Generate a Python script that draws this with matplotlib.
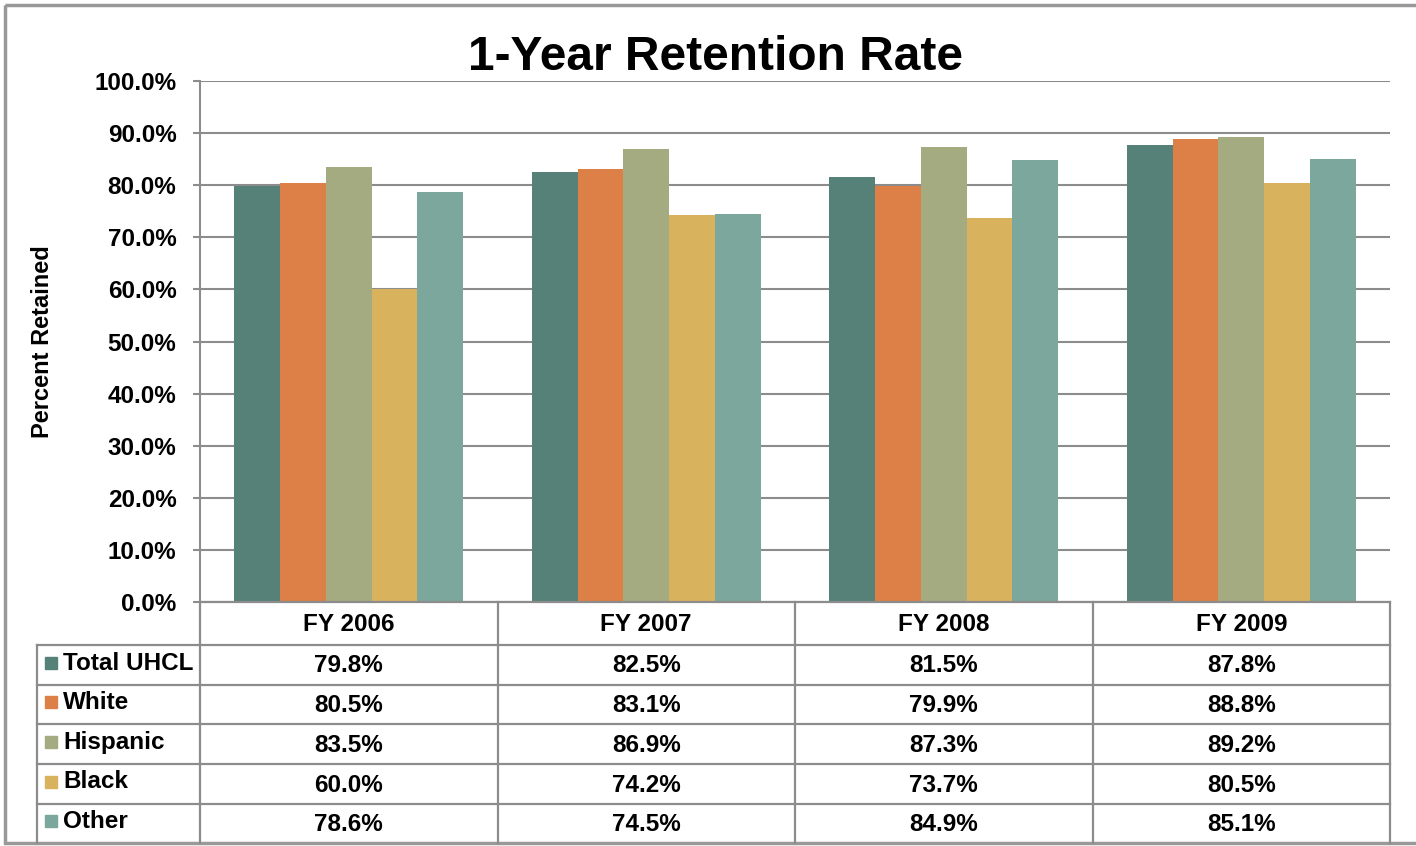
import numpy as np
import matplotlib
matplotlib.use('Agg')
import matplotlib.pyplot as plt
from matplotlib.patches import Rectangle

plt.rcParams['font.family'] = ['Liberation Sans', 'DejaVu Sans']
plt.rcParams['font.weight'] = 'bold'

# Data
years = ['FY 2006', 'FY 2007', 'FY 2008', 'FY 2009']
groups = ['Total UHCL', 'White', 'Hispanic', 'Black', 'Other']
total_uhcl = [79.8, 82.5, 81.5, 87.8]
white = [80.5, 83.1, 79.9, 88.8]
hispanic = [83.5, 86.9, 87.3, 89.2]
black = [60.0, 74.2, 73.7, 80.5]
other = [78.6, 74.5, 84.9, 85.1]
series = [total_uhcl, white, hispanic, black, other]
colors = ['#568178', '#DD8047', '#A5AB81', '#D8B25C', '#7BA79D']
grid_col = '#8C8C8C'
fs = 17.5

W, H = 1416, 846
fig = plt.figure(figsize=(W / 100, H / 100), dpi=100)

# helper: pixel box -> figure fraction
def box(x0, y0, x1, y1):
    return [x0 / W, 1 - y1 / H, (x1 - x0) / W, (y1 - y0) / H]

# Bar chart
ax = fig.add_axes(box(200, 81, 1390, 602))
x = np.arange(len(years))
bw = 0.154
for i, (vals, c) in enumerate(zip(series, colors)):
    ax.bar(x + (i - 2) * bw, vals, width=bw, color=c, zorder=3)
ax.set_xlim(-0.5, len(years) - 0.5)
ax.set_ylim(0, 100)
ax.set_yticks(np.arange(0, 101, 10))
ax.set_yticklabels(['%.1f%%' % v for v in np.arange(0, 101, 10)], fontsize=fs, fontweight='bold')
ax.set_xticks([])
ax.yaxis.grid(True, color=grid_col, linewidth=1.5, zorder=0)
for s in ['top', 'right', 'bottom']:
    ax.spines[s].set_visible(False)
ax.spines['left'].set_color(grid_col)
ax.spines['left'].set_linewidth(1.5)
ax.tick_params(axis='y', length=5, width=1.5, color=grid_col, pad=12)
ax.set_ylabel('Percent Retained', fontsize=17, fontweight='bold')
ax.yaxis.set_label_coords(-0.123, 0.5)

fig.text(715 / W, 1 - 57 / H, '1-Year Retention Rate', fontsize=34.5,
         fontweight='bold', ha='center', va='center')

# Data table drawn below the axis (pixel coordinates)
tb = fig.add_axes([0, 0, 1, 1], facecolor='none')
tb.set_xlim(0, W)
tb.set_ylim(H, 0)
tb.axis('off')
col_edges = np.linspace(200, 1390, len(years) + 1)
row_edges = [602, 645, 685, 724, 764, 804, 843]
lw = 1.6
for xe in col_edges:
    tb.plot([xe, xe], [602, 843], color=grid_col, lw=lw)
tb.plot([37, 37], [645, 843], color=grid_col, lw=lw)
tb.plot([200, 1390], [602, 602], color=grid_col, lw=lw)
for ye in row_edges[1:-1]:
    tb.plot([37, 1390], [ye, ye], color=grid_col, lw=lw)

for j, yr in enumerate(years):
    cx = (col_edges[j] + col_edges[j + 1]) / 2
    tb.text(cx, (row_edges[0] + row_edges[1]) / 2 + 1, yr, fontsize=fs,
            fontweight='bold', ha='center', va='center')
for i, (g, vals, c) in enumerate(zip(groups, series, colors)):
    cy = (row_edges[i + 1] + row_edges[i + 2]) / 2
    tb.add_patch(Rectangle((45, cy - 8), 12, 12, color=c))
    tb.text(63, cy - 2, g, fontsize=fs, fontweight='bold', ha='left', va='center')
    for j, v in enumerate(vals):
        cx = (col_edges[j] + col_edges[j + 1]) / 2
        tb.text(cx, cy + 1, '%.1f%%' % v, fontsize=fs, fontweight='bold',
                ha='center', va='center')

# outer frame
tb.add_patch(Rectangle((5, 5), W + 10, 838, fill=False, edgecolor='#999999', lw=2.5))

fig.savefig('out.png', dpi=100)
